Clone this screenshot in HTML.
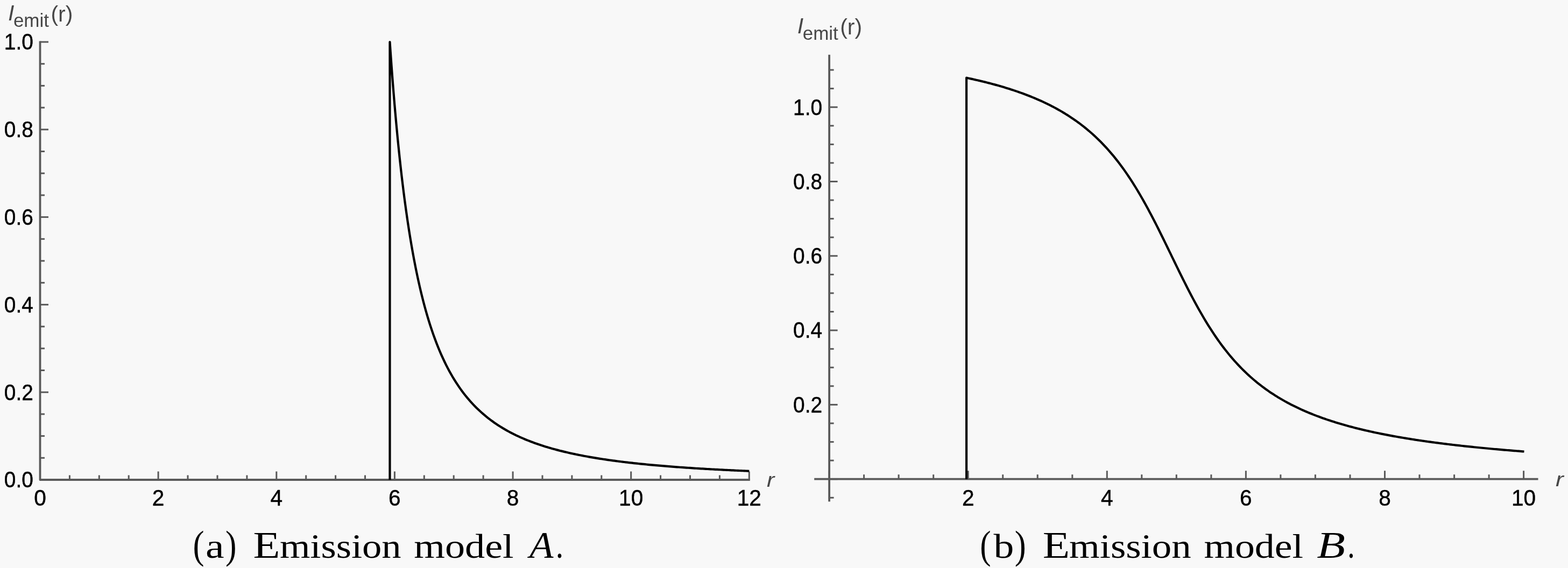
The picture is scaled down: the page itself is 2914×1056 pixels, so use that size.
<!DOCTYPE html>
<html><head><meta charset="utf-8"><title>Emission models</title>
<style>
html,body{margin:0;padding:0;background:#f8f8f8;}
body{width:2914px;height:1056px;overflow:hidden;}
svg{display:block;font-family:"Liberation Sans",Arial,sans-serif;}
</style></head><body>
<svg width="2914" height="1056" viewBox="0 0 2914 1056">
<rect width="2914" height="1056" fill="#f8f8f8"/>
<path d="M74.5 76.5 L74.5 892.0 L1393.8 892.0" fill="none" stroke="#595959" stroke-width="3.8" stroke-linejoin="round"/>
<line x1="74.5" y1="892.0" x2="90.0" y2="892.0" stroke="#595959" stroke-width="3.0" stroke-linecap="butt"/>
<line x1="74.5" y1="851.3" x2="83.0" y2="851.3" stroke="#595959" stroke-width="3.0" stroke-linecap="butt"/>
<line x1="74.5" y1="810.6" x2="83.0" y2="810.6" stroke="#595959" stroke-width="3.0" stroke-linecap="butt"/>
<line x1="74.5" y1="769.9" x2="83.0" y2="769.9" stroke="#595959" stroke-width="3.0" stroke-linecap="butt"/>
<line x1="74.5" y1="729.2" x2="90.0" y2="729.2" stroke="#595959" stroke-width="3.0" stroke-linecap="butt"/>
<line x1="74.5" y1="688.5" x2="83.0" y2="688.5" stroke="#595959" stroke-width="3.0" stroke-linecap="butt"/>
<line x1="74.5" y1="647.8" x2="83.0" y2="647.8" stroke="#595959" stroke-width="3.0" stroke-linecap="butt"/>
<line x1="74.5" y1="607.1" x2="83.0" y2="607.1" stroke="#595959" stroke-width="3.0" stroke-linecap="butt"/>
<line x1="74.5" y1="566.4" x2="90.0" y2="566.4" stroke="#595959" stroke-width="3.0" stroke-linecap="butt"/>
<line x1="74.5" y1="525.7" x2="83.0" y2="525.7" stroke="#595959" stroke-width="3.0" stroke-linecap="butt"/>
<line x1="74.5" y1="485.0" x2="83.0" y2="485.0" stroke="#595959" stroke-width="3.0" stroke-linecap="butt"/>
<line x1="74.5" y1="444.3" x2="83.0" y2="444.3" stroke="#595959" stroke-width="3.0" stroke-linecap="butt"/>
<line x1="74.5" y1="403.6" x2="90.0" y2="403.6" stroke="#595959" stroke-width="3.0" stroke-linecap="butt"/>
<line x1="74.5" y1="362.9" x2="83.0" y2="362.9" stroke="#595959" stroke-width="3.0" stroke-linecap="butt"/>
<line x1="74.5" y1="322.2" x2="83.0" y2="322.2" stroke="#595959" stroke-width="3.0" stroke-linecap="butt"/>
<line x1="74.5" y1="281.5" x2="83.0" y2="281.5" stroke="#595959" stroke-width="3.0" stroke-linecap="butt"/>
<line x1="74.5" y1="240.8" x2="90.0" y2="240.8" stroke="#595959" stroke-width="3.0" stroke-linecap="butt"/>
<line x1="74.5" y1="200.1" x2="83.0" y2="200.1" stroke="#595959" stroke-width="3.0" stroke-linecap="butt"/>
<line x1="74.5" y1="159.4" x2="83.0" y2="159.4" stroke="#595959" stroke-width="3.0" stroke-linecap="butt"/>
<line x1="74.5" y1="118.7" x2="83.0" y2="118.7" stroke="#595959" stroke-width="3.0" stroke-linecap="butt"/>
<line x1="74.5" y1="78.0" x2="90.0" y2="78.0" stroke="#595959" stroke-width="3.0" stroke-linecap="butt"/>
<line x1="74.5" y1="892.0" x2="74.5" y2="876.5" stroke="#595959" stroke-width="3.0" stroke-linecap="butt"/>
<line x1="129.4" y1="892.0" x2="129.4" y2="883.5" stroke="#595959" stroke-width="3.0" stroke-linecap="butt"/>
<line x1="184.3" y1="892.0" x2="184.3" y2="883.5" stroke="#595959" stroke-width="3.0" stroke-linecap="butt"/>
<line x1="239.2" y1="892.0" x2="239.2" y2="883.5" stroke="#595959" stroke-width="3.0" stroke-linecap="butt"/>
<line x1="294.1" y1="892.0" x2="294.1" y2="876.5" stroke="#595959" stroke-width="3.0" stroke-linecap="butt"/>
<line x1="349.0" y1="892.0" x2="349.0" y2="883.5" stroke="#595959" stroke-width="3.0" stroke-linecap="butt"/>
<line x1="404.0" y1="892.0" x2="404.0" y2="883.5" stroke="#595959" stroke-width="3.0" stroke-linecap="butt"/>
<line x1="458.9" y1="892.0" x2="458.9" y2="883.5" stroke="#595959" stroke-width="3.0" stroke-linecap="butt"/>
<line x1="513.8" y1="892.0" x2="513.8" y2="876.5" stroke="#595959" stroke-width="3.0" stroke-linecap="butt"/>
<line x1="568.7" y1="892.0" x2="568.7" y2="883.5" stroke="#595959" stroke-width="3.0" stroke-linecap="butt"/>
<line x1="623.6" y1="892.0" x2="623.6" y2="883.5" stroke="#595959" stroke-width="3.0" stroke-linecap="butt"/>
<line x1="678.5" y1="892.0" x2="678.5" y2="883.5" stroke="#595959" stroke-width="3.0" stroke-linecap="butt"/>
<line x1="733.4" y1="892.0" x2="733.4" y2="876.5" stroke="#595959" stroke-width="3.0" stroke-linecap="butt"/>
<line x1="788.3" y1="892.0" x2="788.3" y2="883.5" stroke="#595959" stroke-width="3.0" stroke-linecap="butt"/>
<line x1="843.2" y1="892.0" x2="843.2" y2="883.5" stroke="#595959" stroke-width="3.0" stroke-linecap="butt"/>
<line x1="898.1" y1="892.0" x2="898.1" y2="883.5" stroke="#595959" stroke-width="3.0" stroke-linecap="butt"/>
<line x1="953.1" y1="892.0" x2="953.1" y2="876.5" stroke="#595959" stroke-width="3.0" stroke-linecap="butt"/>
<line x1="1008.0" y1="892.0" x2="1008.0" y2="883.5" stroke="#595959" stroke-width="3.0" stroke-linecap="butt"/>
<line x1="1062.9" y1="892.0" x2="1062.9" y2="883.5" stroke="#595959" stroke-width="3.0" stroke-linecap="butt"/>
<line x1="1117.8" y1="892.0" x2="1117.8" y2="883.5" stroke="#595959" stroke-width="3.0" stroke-linecap="butt"/>
<line x1="1172.7" y1="892.0" x2="1172.7" y2="876.5" stroke="#595959" stroke-width="3.0" stroke-linecap="butt"/>
<line x1="1227.6" y1="892.0" x2="1227.6" y2="883.5" stroke="#595959" stroke-width="3.0" stroke-linecap="butt"/>
<line x1="1282.5" y1="892.0" x2="1282.5" y2="883.5" stroke="#595959" stroke-width="3.0" stroke-linecap="butt"/>
<line x1="1337.4" y1="892.0" x2="1337.4" y2="883.5" stroke="#595959" stroke-width="3.0" stroke-linecap="butt"/>
<line x1="1392.3" y1="892.0" x2="1392.3" y2="876.5" stroke="#595959" stroke-width="3.0" stroke-linecap="butt"/>
<text x="61.8" y="906.3" text-anchor="end" font-size="42" stroke="#000" stroke-width="0.5" textLength="54.0" lengthAdjust="spacingAndGlyphs">0.0</text>
<text x="61.8" y="743.5" text-anchor="end" font-size="42" stroke="#000" stroke-width="0.5" textLength="54.0" lengthAdjust="spacingAndGlyphs">0.2</text>
<text x="61.8" y="580.7" text-anchor="end" font-size="42" stroke="#000" stroke-width="0.5" textLength="54.0" lengthAdjust="spacingAndGlyphs">0.4</text>
<text x="61.8" y="417.9" text-anchor="end" font-size="42" stroke="#000" stroke-width="0.5" textLength="54.0" lengthAdjust="spacingAndGlyphs">0.6</text>
<text x="61.8" y="255.1" text-anchor="end" font-size="42" stroke="#000" stroke-width="0.5" textLength="54.0" lengthAdjust="spacingAndGlyphs">0.8</text>
<text x="61.8" y="92.3" text-anchor="end" font-size="42" stroke="#000" stroke-width="0.5" textLength="54.0" lengthAdjust="spacingAndGlyphs">1.0</text>
<text x="74.5" y="940.3" text-anchor="middle" font-size="42" stroke="#000" stroke-width="0.5" textLength="22.6" lengthAdjust="spacingAndGlyphs">0</text>
<text x="294.1" y="940.3" text-anchor="middle" font-size="42" stroke="#000" stroke-width="0.5" textLength="22.6" lengthAdjust="spacingAndGlyphs">2</text>
<text x="513.8" y="940.3" text-anchor="middle" font-size="42" stroke="#000" stroke-width="0.5" textLength="22.6" lengthAdjust="spacingAndGlyphs">4</text>
<text x="733.4" y="940.3" text-anchor="middle" font-size="42" stroke="#000" stroke-width="0.5" textLength="22.6" lengthAdjust="spacingAndGlyphs">6</text>
<text x="953.1" y="940.3" text-anchor="middle" font-size="42" stroke="#000" stroke-width="0.5" textLength="22.6" lengthAdjust="spacingAndGlyphs">8</text>
<text x="1172.7" y="940.3" text-anchor="middle" font-size="42" stroke="#000" stroke-width="0.5" textLength="45.2" lengthAdjust="spacingAndGlyphs">10</text>
<text x="1392.3" y="940.3" text-anchor="middle" font-size="42" stroke="#000" stroke-width="0.5" textLength="45.2" lengthAdjust="spacingAndGlyphs">12</text>
<text x="1425.1" y="904.8" font-size="37" font-style="italic" fill="#474747" textLength="14.3" lengthAdjust="spacingAndGlyphs">r</text>
<text x="15.0" y="37.9" font-size="41" font-style="italic" fill="#474747">I</text>
<text x="24.9" y="49.9" font-size="35" fill="#474747">emit</text>
<text x="94.4" y="39.8" font-size="40" fill="#474747" textLength="41" lengthAdjust="spacingAndGlyphs">(r)</text>
<path d="M724.47 892.00 L724.47 78.00 725.10 87.24 725.73 96.33 726.36 105.27 726.99 114.05 727.61 122.69 728.24 131.18 728.87 139.54 729.50 147.76 730.13 155.84 730.76 163.80 731.39 171.62 732.02 179.32 732.65 186.90 733.27 194.35 733.90 201.69 734.53 208.92 735.16 216.03 735.79 223.03 736.42 229.92 737.05 236.71 737.68 243.39 738.31 249.97 738.93 256.45 739.56 262.84 740.19 269.12 740.82 275.32 741.45 281.42 742.08 287.43 742.71 293.36 743.34 299.19 743.97 304.95 744.60 310.62 745.22 316.20 745.85 321.71 746.48 327.14 747.11 332.49 747.74 337.76 748.37 342.97 749.00 348.09 749.63 353.15 750.26 358.14 750.88 363.06 751.51 367.91 752.14 372.69 752.77 377.41 753.40 382.06 754.03 386.65 754.66 391.18 755.29 395.65 755.92 400.06 756.54 404.41 757.17 408.71 757.80 412.94 758.43 417.13 759.06 421.25 759.69 425.33 760.32 429.35 760.95 433.32 761.58 437.24 762.21 441.10 762.83 444.92 763.46 448.69 764.09 452.42 764.72 456.10 765.35 459.73 765.98 463.31 766.61 466.85 767.24 470.35 767.87 473.80 768.49 477.22 769.12 480.59 769.75 483.92 770.38 487.21 771.01 490.46 771.64 493.67 772.27 496.84 772.90 499.97 773.53 503.07 774.15 506.13 774.78 509.16 775.41 512.15 776.04 515.10 776.67 518.02 777.30 520.91 777.93 523.76 778.56 526.58 779.19 529.37 779.82 532.13 780.44 534.85 781.07 537.55 781.70 540.21 782.33 542.85 782.96 545.45 783.59 548.03 784.22 550.57 784.85 553.09 785.48 555.58 786.10 558.05 786.73 560.48 787.36 562.89 787.99 565.28 788.62 567.63 789.25 569.97 789.88 572.27 790.51 574.56 791.14 576.82 791.76 579.05 792.39 581.26 793.02 583.45 793.65 585.61 794.28 587.75 794.91 589.87 795.54 591.97 796.17 594.05 796.80 596.10 797.43 598.13 798.05 600.14 798.68 602.14 799.31 604.11 802.29 613.18 805.27 621.83 808.25 630.08 811.23 637.96 814.21 645.49 817.19 652.69 820.17 659.58 823.15 666.18 826.13 672.50 829.11 678.56 832.09 684.37 835.07 689.94 838.05 695.30 841.03 700.44 844.01 705.39 846.99 710.14 849.97 714.72 852.95 719.13 855.93 723.37 858.91 727.46 861.89 731.40 864.87 735.21 867.85 738.87 870.83 742.42 873.81 745.84 876.79 749.14 879.77 752.33 882.75 755.42 885.73 758.41 888.71 761.30 891.69 764.09 894.67 766.80 897.65 769.42 900.63 771.97 903.61 774.43 906.59 776.82 909.57 779.13 912.55 781.38 915.53 783.56 918.51 785.68 921.49 787.73 924.47 789.73 927.45 791.67 930.43 793.55 933.41 795.38 936.39 797.17 939.37 798.90 942.35 800.58 945.33 802.22 948.31 803.82 951.29 805.37 954.27 806.89 957.25 808.36 960.23 809.80 963.21 811.20 966.19 812.56 969.17 813.89 972.15 815.19 975.13 816.45 978.11 817.69 981.09 818.89 984.07 820.07 987.05 821.21 990.03 822.33 993.01 823.43 995.99 824.49 998.97 825.54 1001.95 826.55 1004.93 827.55 1007.91 828.52 1010.89 829.47 1013.87 830.40 1016.85 831.31 1019.83 832.20 1022.82 833.07 1025.80 833.92 1028.78 834.76 1031.76 835.57 1034.74 836.37 1037.72 837.15 1040.70 837.92 1043.68 838.66 1046.66 839.40 1049.64 840.12 1052.62 840.82 1055.60 841.51 1058.58 842.18 1061.56 842.85 1064.54 843.50 1067.52 844.13 1070.50 844.76 1073.48 845.37 1076.46 845.97 1079.44 846.56 1082.42 847.13 1085.40 847.70 1088.38 848.25 1091.36 848.80 1094.34 849.33 1097.32 849.86 1100.30 850.38 1103.28 850.88 1106.26 851.38 1109.24 851.87 1112.22 852.35 1115.20 852.82 1118.18 853.28 1121.16 853.73 1124.14 854.18 1127.12 854.62 1130.10 855.05 1133.08 855.47 1136.06 855.89 1139.04 856.30 1142.02 856.70 1145.00 857.10 1147.98 857.49 1150.96 857.87 1153.94 858.24 1156.92 858.61 1159.90 858.98 1162.88 859.34 1165.86 859.69 1168.84 860.04 1171.82 860.38 1174.80 860.71 1177.78 861.04 1180.76 861.37 1183.74 861.69 1186.72 862.00 1189.70 862.31 1192.68 862.62 1195.66 862.92 1198.64 863.21 1201.62 863.51 1204.60 863.79 1207.58 864.08 1210.56 864.35 1213.54 864.63 1216.52 864.90 1219.50 865.17 1222.48 865.43 1225.46 865.69 1228.44 865.94 1231.42 866.19 1234.40 866.44 1237.38 866.68 1240.36 866.92 1243.34 867.16 1246.32 867.40 1249.30 867.63 1252.28 867.85 1255.26 868.08 1258.24 868.30 1261.22 868.52 1264.20 868.73 1267.18 868.94 1270.16 869.15 1273.14 869.36 1276.12 869.56 1279.10 869.76 1282.08 869.96 1285.06 870.16 1288.04 870.35 1291.02 870.54 1294.00 870.73 1296.98 870.91 1299.96 871.10 1302.94 871.28 1305.92 871.46 1308.90 871.63 1311.88 871.81 1314.86 871.98 1317.84 872.15 1320.82 872.31 1323.80 872.48 1326.78 872.64 1329.76 872.80 1332.74 872.96 1335.72 873.12 1338.70 873.27 1341.68 873.43 1344.66 873.58 1347.64 873.73 1350.62 873.88 1353.60 874.02 1356.58 874.17 1359.56 874.31 1362.54 874.45 1365.52 874.59 1368.50 874.73 1371.48 874.86 1374.46 874.99 1377.44 875.13 1380.42 875.26 1383.40 875.39 1386.38 875.52 1389.36 875.64 1392.34 875.77" fill="none" stroke="#000" stroke-width="4.2" stroke-linejoin="round"/>
<line x1="1541.1" y1="101.7" x2="1541.1" y2="932.4" stroke="#595959" stroke-width="3.8" stroke-linecap="butt"/>
<line x1="1513.2" y1="890.7" x2="2858.5" y2="890.7" stroke="#595959" stroke-width="3.8" stroke-linecap="butt"/>
<line x1="1541.1" y1="925.3" x2="1549.6" y2="925.3" stroke="#595959" stroke-width="3.0" stroke-linecap="butt"/>
<line x1="1541.1" y1="890.7" x2="1556.6" y2="890.7" stroke="#595959" stroke-width="3.0" stroke-linecap="butt"/>
<line x1="1541.1" y1="856.1" x2="1549.6" y2="856.1" stroke="#595959" stroke-width="3.0" stroke-linecap="butt"/>
<line x1="1541.1" y1="821.6" x2="1549.6" y2="821.6" stroke="#595959" stroke-width="3.0" stroke-linecap="butt"/>
<line x1="1541.1" y1="787.0" x2="1549.6" y2="787.0" stroke="#595959" stroke-width="3.0" stroke-linecap="butt"/>
<line x1="1541.1" y1="752.4" x2="1556.6" y2="752.4" stroke="#595959" stroke-width="3.0" stroke-linecap="butt"/>
<line x1="1541.1" y1="717.8" x2="1549.6" y2="717.8" stroke="#595959" stroke-width="3.0" stroke-linecap="butt"/>
<line x1="1541.1" y1="683.2" x2="1549.6" y2="683.2" stroke="#595959" stroke-width="3.0" stroke-linecap="butt"/>
<line x1="1541.1" y1="648.7" x2="1549.6" y2="648.7" stroke="#595959" stroke-width="3.0" stroke-linecap="butt"/>
<line x1="1541.1" y1="614.1" x2="1556.6" y2="614.1" stroke="#595959" stroke-width="3.0" stroke-linecap="butt"/>
<line x1="1541.1" y1="579.5" x2="1549.6" y2="579.5" stroke="#595959" stroke-width="3.0" stroke-linecap="butt"/>
<line x1="1541.1" y1="545.0" x2="1549.6" y2="545.0" stroke="#595959" stroke-width="3.0" stroke-linecap="butt"/>
<line x1="1541.1" y1="510.4" x2="1549.6" y2="510.4" stroke="#595959" stroke-width="3.0" stroke-linecap="butt"/>
<line x1="1541.1" y1="475.8" x2="1556.6" y2="475.8" stroke="#595959" stroke-width="3.0" stroke-linecap="butt"/>
<line x1="1541.1" y1="441.2" x2="1549.6" y2="441.2" stroke="#595959" stroke-width="3.0" stroke-linecap="butt"/>
<line x1="1541.1" y1="406.6" x2="1549.6" y2="406.6" stroke="#595959" stroke-width="3.0" stroke-linecap="butt"/>
<line x1="1541.1" y1="372.1" x2="1549.6" y2="372.1" stroke="#595959" stroke-width="3.0" stroke-linecap="butt"/>
<line x1="1541.1" y1="337.5" x2="1556.6" y2="337.5" stroke="#595959" stroke-width="3.0" stroke-linecap="butt"/>
<line x1="1541.1" y1="302.9" x2="1549.6" y2="302.9" stroke="#595959" stroke-width="3.0" stroke-linecap="butt"/>
<line x1="1541.1" y1="268.4" x2="1549.6" y2="268.4" stroke="#595959" stroke-width="3.0" stroke-linecap="butt"/>
<line x1="1541.1" y1="233.8" x2="1549.6" y2="233.8" stroke="#595959" stroke-width="3.0" stroke-linecap="butt"/>
<line x1="1541.1" y1="199.2" x2="1556.6" y2="199.2" stroke="#595959" stroke-width="3.0" stroke-linecap="butt"/>
<line x1="1541.1" y1="164.6" x2="1549.6" y2="164.6" stroke="#595959" stroke-width="3.0" stroke-linecap="butt"/>
<line x1="1541.1" y1="130.0" x2="1549.6" y2="130.0" stroke="#595959" stroke-width="3.0" stroke-linecap="butt"/>
<line x1="1541.1" y1="890.7" x2="1541.1" y2="875.2" stroke="#595959" stroke-width="3.0" stroke-linecap="butt"/>
<line x1="1605.6" y1="890.7" x2="1605.6" y2="882.2" stroke="#595959" stroke-width="3.0" stroke-linecap="butt"/>
<line x1="1670.1" y1="890.7" x2="1670.1" y2="882.2" stroke="#595959" stroke-width="3.0" stroke-linecap="butt"/>
<line x1="1734.7" y1="890.7" x2="1734.7" y2="882.2" stroke="#595959" stroke-width="3.0" stroke-linecap="butt"/>
<line x1="1799.2" y1="890.7" x2="1799.2" y2="875.2" stroke="#595959" stroke-width="3.0" stroke-linecap="butt"/>
<line x1="1863.7" y1="890.7" x2="1863.7" y2="882.2" stroke="#595959" stroke-width="3.0" stroke-linecap="butt"/>
<line x1="1928.2" y1="890.7" x2="1928.2" y2="882.2" stroke="#595959" stroke-width="3.0" stroke-linecap="butt"/>
<line x1="1992.8" y1="890.7" x2="1992.8" y2="882.2" stroke="#595959" stroke-width="3.0" stroke-linecap="butt"/>
<line x1="2057.3" y1="890.7" x2="2057.3" y2="875.2" stroke="#595959" stroke-width="3.0" stroke-linecap="butt"/>
<line x1="2121.8" y1="890.7" x2="2121.8" y2="882.2" stroke="#595959" stroke-width="3.0" stroke-linecap="butt"/>
<line x1="2186.3" y1="890.7" x2="2186.3" y2="882.2" stroke="#595959" stroke-width="3.0" stroke-linecap="butt"/>
<line x1="2250.9" y1="890.7" x2="2250.9" y2="882.2" stroke="#595959" stroke-width="3.0" stroke-linecap="butt"/>
<line x1="2315.4" y1="890.7" x2="2315.4" y2="875.2" stroke="#595959" stroke-width="3.0" stroke-linecap="butt"/>
<line x1="2379.9" y1="890.7" x2="2379.9" y2="882.2" stroke="#595959" stroke-width="3.0" stroke-linecap="butt"/>
<line x1="2444.4" y1="890.7" x2="2444.4" y2="882.2" stroke="#595959" stroke-width="3.0" stroke-linecap="butt"/>
<line x1="2509.0" y1="890.7" x2="2509.0" y2="882.2" stroke="#595959" stroke-width="3.0" stroke-linecap="butt"/>
<line x1="2573.5" y1="890.7" x2="2573.5" y2="875.2" stroke="#595959" stroke-width="3.0" stroke-linecap="butt"/>
<line x1="2638.0" y1="890.7" x2="2638.0" y2="882.2" stroke="#595959" stroke-width="3.0" stroke-linecap="butt"/>
<line x1="2702.6" y1="890.7" x2="2702.6" y2="882.2" stroke="#595959" stroke-width="3.0" stroke-linecap="butt"/>
<line x1="2767.1" y1="890.7" x2="2767.1" y2="882.2" stroke="#595959" stroke-width="3.0" stroke-linecap="butt"/>
<line x1="2831.6" y1="890.7" x2="2831.6" y2="875.2" stroke="#595959" stroke-width="3.0" stroke-linecap="butt"/>
<text x="1528.1" y="766.7" text-anchor="end" font-size="42" stroke="#000" stroke-width="0.5" textLength="54.0" lengthAdjust="spacingAndGlyphs">0.2</text>
<text x="1528.1" y="628.4" text-anchor="end" font-size="42" stroke="#000" stroke-width="0.5" textLength="54.0" lengthAdjust="spacingAndGlyphs">0.4</text>
<text x="1528.1" y="490.1" text-anchor="end" font-size="42" stroke="#000" stroke-width="0.5" textLength="54.0" lengthAdjust="spacingAndGlyphs">0.6</text>
<text x="1528.1" y="351.8" text-anchor="end" font-size="42" stroke="#000" stroke-width="0.5" textLength="54.0" lengthAdjust="spacingAndGlyphs">0.8</text>
<text x="1528.1" y="213.5" text-anchor="end" font-size="42" stroke="#000" stroke-width="0.5" textLength="54.0" lengthAdjust="spacingAndGlyphs">1.0</text>
<text x="1799.2" y="940.3" text-anchor="middle" font-size="42" stroke="#000" stroke-width="0.5" textLength="22.6" lengthAdjust="spacingAndGlyphs">2</text>
<text x="2057.3" y="940.3" text-anchor="middle" font-size="42" stroke="#000" stroke-width="0.5" textLength="22.6" lengthAdjust="spacingAndGlyphs">4</text>
<text x="2315.4" y="940.3" text-anchor="middle" font-size="42" stroke="#000" stroke-width="0.5" textLength="22.6" lengthAdjust="spacingAndGlyphs">6</text>
<text x="2573.5" y="940.3" text-anchor="middle" font-size="42" stroke="#000" stroke-width="0.5" textLength="22.6" lengthAdjust="spacingAndGlyphs">8</text>
<text x="2831.6" y="940.3" text-anchor="middle" font-size="42" stroke="#000" stroke-width="0.5" textLength="45.2" lengthAdjust="spacingAndGlyphs">10</text>
<text x="2890.9" y="904.3" font-size="37" font-style="italic" fill="#474747" textLength="14.8" lengthAdjust="spacingAndGlyphs">r</text>
<text x="1481.8" y="61.9" font-size="41" font-style="italic" fill="#474747">I</text>
<text x="1491.7" y="73.9" font-size="35" fill="#474747">emit</text>
<text x="1561.2" y="63.8" font-size="40" fill="#474747" textLength="41" lengthAdjust="spacingAndGlyphs">(r)</text>
<path d="M1796.10 890.70 L1796.10 144.67 1798.70 145.22 1801.30 145.78 1803.90 146.34 1806.49 146.92 1809.09 147.50 1811.69 148.08 1814.29 148.68 1816.88 149.28 1819.48 149.89 1822.08 150.50 1824.68 151.13 1827.27 151.76 1829.87 152.40 1832.47 153.05 1835.07 153.71 1837.66 154.38 1840.26 155.05 1842.86 155.74 1845.46 156.44 1848.05 157.14 1850.65 157.85 1853.25 158.58 1855.85 159.31 1858.44 160.06 1861.04 160.81 1863.64 161.58 1866.24 162.36 1868.83 163.14 1871.43 163.94 1874.03 164.75 1876.63 165.58 1879.22 166.41 1881.82 167.26 1884.42 168.12 1887.02 168.99 1889.61 169.88 1892.21 170.78 1894.81 171.69 1897.41 172.62 1900.00 173.56 1902.60 174.52 1905.20 175.49 1907.80 176.48 1910.39 177.48 1912.99 178.50 1915.59 179.53 1918.19 180.58 1920.78 181.65 1923.38 182.74 1925.98 183.84 1928.58 184.96 1931.17 186.11 1933.77 187.27 1936.37 188.45 1938.97 189.64 1941.56 190.86 1944.16 192.11 1946.76 193.37 1949.36 194.65 1951.95 195.96 1954.55 197.29 1957.15 198.64 1959.74 200.02 1962.34 201.42 1964.94 202.85 1967.54 204.30 1970.13 205.78 1972.73 207.29 1975.33 208.82 1977.93 210.38 1980.52 211.98 1983.12 213.60 1985.72 215.25 1988.32 216.93 1990.91 218.65 1993.51 220.40 1996.11 222.18 1998.71 223.99 2001.30 225.85 2003.90 227.73 2006.50 229.66 2009.10 231.62 2011.69 233.62 2014.29 235.66 2016.89 237.74 2019.49 239.86 2022.08 242.03 2024.68 244.24 2027.28 246.49 2029.88 248.79 2032.47 251.13 2035.07 253.52 2037.67 255.96 2040.27 258.46 2042.86 261.00 2045.46 263.59 2048.06 266.24 2050.66 268.94 2053.25 271.69 2055.85 274.51 2058.45 277.37 2061.05 280.30 2063.64 283.29 2066.24 286.34 2068.84 289.45 2071.44 292.62 2074.03 295.86 2076.63 299.16 2079.23 302.52 2081.83 305.95 2084.42 309.45 2087.02 313.02 2089.62 316.65 2092.22 320.36 2094.81 324.13 2097.41 327.97 2100.01 331.89 2102.61 335.87 2105.20 339.92 2107.80 344.05 2110.40 348.24 2113.00 352.51 2115.59 356.84 2118.19 361.24 2120.79 365.71 2123.39 370.25 2125.98 374.85 2128.58 379.52 2131.18 384.25 2133.78 389.04 2136.37 393.89 2138.97 398.79 2141.57 403.75 2144.17 408.76 2146.76 413.82 2149.36 418.92 2151.96 424.07 2154.56 429.26 2157.15 434.48 2159.75 439.73 2162.35 445.01 2164.95 450.31 2167.54 455.64 2170.14 460.98 2172.74 466.33 2175.34 471.68 2177.93 477.04 2180.53 482.40 2183.13 487.75 2185.73 493.09 2188.32 498.41 2190.92 503.72 2193.52 509.00 2196.12 514.26 2198.71 519.48 2201.31 524.67 2203.91 529.82 2206.51 534.93 2209.10 539.99 2211.70 545.01 2214.30 549.97 2216.90 554.88 2219.49 559.73 2222.09 564.53 2224.69 569.26 2227.29 573.93 2229.88 578.54 2232.48 583.08 2235.08 587.56 2237.68 591.97 2240.27 596.31 2242.87 600.58 2245.47 604.78 2248.07 608.91 2250.66 612.97 2253.26 616.96 2255.86 620.88 2258.46 624.73 2261.05 628.51 2263.65 632.22 2266.25 635.86 2268.85 639.43 2271.44 642.94 2274.04 646.38 2276.64 649.75 2279.24 653.05 2281.83 656.29 2284.43 659.47 2287.03 662.59 2289.63 665.64 2292.22 668.63 2294.82 671.57 2297.42 674.44 2300.02 677.26 2302.61 680.02 2305.21 682.72 2307.81 685.37 2310.41 687.97 2313.00 690.52 2315.60 693.01 2318.20 695.46 2320.80 697.86 2323.39 700.21 2325.99 702.51 2328.59 704.76 2331.19 706.98 2333.78 709.15 2336.38 711.27 2338.98 713.36 2341.58 715.40 2344.17 717.40 2346.77 719.37 2349.37 721.30 2351.97 723.19 2354.56 725.04 2357.16 726.86 2359.76 728.65 2362.36 730.40 2364.95 732.11 2367.55 733.80 2370.15 735.46 2372.75 737.08 2375.34 738.67 2377.94 740.24 2380.54 741.78 2383.14 743.28 2385.73 744.77 2388.33 746.22 2390.93 747.65 2393.53 749.06 2396.12 750.43 2398.72 751.79 2401.32 753.12 2403.92 754.43 2406.51 755.72 2409.11 756.98 2411.71 758.22 2414.31 759.45 2416.90 760.65 2419.50 761.83 2422.10 762.99 2424.70 764.13 2427.29 765.26 2429.89 766.36 2432.49 767.45 2435.09 768.52 2437.68 769.57 2440.28 770.61 2442.88 771.63 2445.48 772.63 2448.07 773.62 2450.67 774.59 2453.27 775.55 2455.87 776.50 2458.46 777.42 2461.06 778.34 2463.66 779.24 2466.26 780.13 2468.85 781.00 2471.45 781.86 2474.05 782.71 2476.65 783.55 2479.24 784.37 2481.84 785.18 2484.44 785.98 2487.04 786.77 2489.63 787.55 2492.23 788.32 2494.83 789.07 2497.43 789.82 2500.02 790.56 2502.62 791.28 2505.22 792.00 2507.82 792.70 2510.41 793.40 2513.01 794.08 2515.61 794.76 2518.21 795.43 2520.80 796.09 2523.40 796.74 2526.00 797.38 2528.60 798.02 2531.19 798.64 2533.79 799.26 2536.39 799.87 2538.99 800.47 2541.58 801.06 2544.18 801.65 2546.78 802.23 2549.38 802.80 2551.97 803.37 2554.57 803.93 2557.17 804.48 2559.77 805.02 2562.36 805.56 2564.96 806.09 2567.56 806.62 2570.16 807.14 2572.75 807.65 2575.35 808.16 2577.95 808.66 2580.55 809.15 2583.14 809.64 2585.74 810.12 2588.34 810.60 2590.94 811.08 2593.53 811.54 2596.13 812.00 2598.73 812.46 2601.33 812.91 2603.92 813.36 2606.52 813.80 2609.12 814.24 2611.72 814.67 2614.31 815.10 2616.91 815.52 2619.51 815.94 2622.11 816.35 2624.70 816.76 2627.30 817.16 2629.90 817.56 2632.50 817.96 2635.09 818.35 2637.69 818.74 2640.29 819.12 2642.89 819.50 2645.48 819.88 2648.08 820.25 2650.68 820.62 2653.28 820.98 2655.87 821.35 2658.47 821.70 2661.07 822.06 2663.67 822.41 2666.26 822.75 2668.86 823.10 2671.46 823.44 2674.06 823.77 2676.65 824.11 2679.25 824.44 2681.85 824.76 2684.45 825.09 2687.04 825.41 2689.64 825.72 2692.24 826.04 2694.84 826.35 2697.43 826.66 2700.03 826.97 2702.63 827.27 2705.23 827.57 2707.82 827.87 2710.42 828.16 2713.02 828.45 2715.62 828.74 2718.21 829.03 2720.81 829.31 2723.41 829.59 2726.01 829.87 2728.60 830.15 2731.20 830.42 2733.80 830.69 2736.40 830.96 2738.99 831.23 2741.59 831.49 2744.19 831.76 2746.79 832.02 2749.38 832.27 2751.98 832.53 2754.58 832.78 2757.18 833.03 2759.77 833.28 2762.37 833.53 2764.97 833.77 2767.57 834.02 2770.16 834.26 2772.76 834.50 2775.36 834.73 2777.96 834.97 2780.55 835.20 2783.15 835.43 2785.75 835.66 2788.35 835.89 2790.94 836.11 2793.54 836.34 2796.14 836.56 2798.74 836.78 2801.33 837.00 2803.93 837.21 2806.53 837.43 2809.13 837.64 2811.72 837.85 2814.32 838.06 2816.92 838.27 2819.52 838.48 2822.11 838.68 2824.71 838.88 2827.31 839.09 2829.91 839.29 2832.50 839.48" fill="none" stroke="#000" stroke-width="4.2" stroke-linejoin="round"/>
<text x="358.40" y="1037.5" font-family="'Liberation Serif', serif" font-size="75" fill="#000" textLength="21.00" lengthAdjust="spacingAndGlyphs">(</text>
<text x="382.10" y="1037" font-family="'Liberation Serif', serif" font-size="63.5" fill="#000" textLength="34.60" lengthAdjust="spacingAndGlyphs">a</text>
<text x="419.10" y="1037.5" font-family="'Liberation Serif', serif" font-size="75" fill="#000" textLength="20.50" lengthAdjust="spacingAndGlyphs">)</text>
<text x="470.60" y="1037" font-family="'Liberation Serif', serif" font-size="69" fill="#000" textLength="49.90" lengthAdjust="spacingAndGlyphs">E</text>
<text x="519.90" y="1037" font-family="'Liberation Serif', serif" font-size="63.5" fill="#000" textLength="225.70" lengthAdjust="spacingAndGlyphs">mission</text>
<text x="769.30" y="1037" font-family="'Liberation Serif', serif" font-size="63.5" fill="#000" textLength="185.40" lengthAdjust="spacingAndGlyphs">model</text>
<text x="984.10" y="1037" font-family="'Liberation Serif', serif" font-size="69" fill="#000" textLength="44.50" lengthAdjust="spacingAndGlyphs" font-style="italic">A</text>
<text x="1032.80" y="1037" font-family="'Liberation Serif', serif" font-size="69" fill="#000" textLength="14.40" lengthAdjust="spacingAndGlyphs">.</text>
<text x="1821.30" y="1037.5" font-family="'Liberation Serif', serif" font-size="75" fill="#000" textLength="20.30" lengthAdjust="spacingAndGlyphs">(</text>
<text x="1846.60" y="1037" font-family="'Liberation Serif', serif" font-size="63.5" fill="#000" textLength="37.80" lengthAdjust="spacingAndGlyphs">b</text>
<text x="1885.70" y="1037.5" font-family="'Liberation Serif', serif" font-size="75" fill="#000" textLength="21.00" lengthAdjust="spacingAndGlyphs">)</text>
<text x="1937.70" y="1037" font-family="'Liberation Serif', serif" font-size="69" fill="#000" textLength="50.40" lengthAdjust="spacingAndGlyphs">E</text>
<text x="1987.00" y="1037" font-family="'Liberation Serif', serif" font-size="63.5" fill="#000" textLength="226.70" lengthAdjust="spacingAndGlyphs">mission</text>
<text x="2237.50" y="1037" font-family="'Liberation Serif', serif" font-size="63.5" fill="#000" textLength="184.40" lengthAdjust="spacingAndGlyphs">model</text>
<text x="2447.30" y="1037" font-family="'Liberation Serif', serif" font-size="69" fill="#000" textLength="52.70" lengthAdjust="spacingAndGlyphs" font-style="italic">B</text>
<text x="2504.30" y="1037" font-family="'Liberation Serif', serif" font-size="69" fill="#000" textLength="13.40" lengthAdjust="spacingAndGlyphs">.</text>
</svg>
</body></html>
